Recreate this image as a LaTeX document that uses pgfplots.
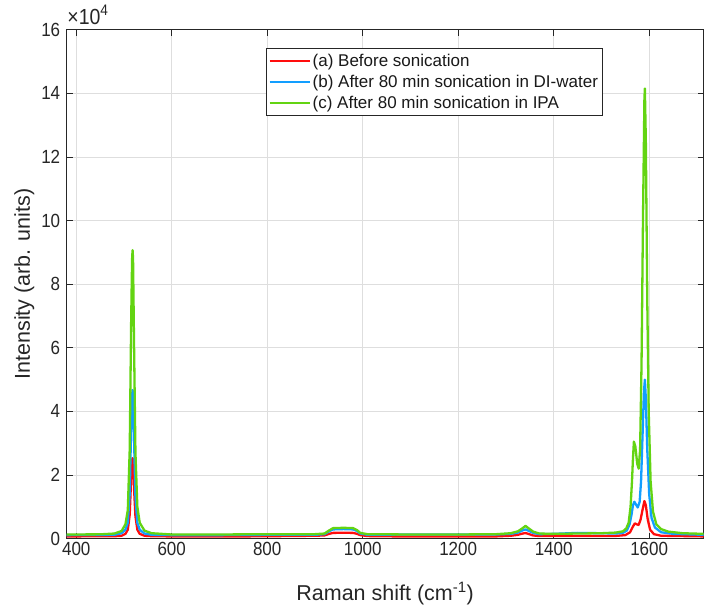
\documentclass[border=0pt]{standalone}
\usepackage{fontspec}
\setmainfont{Liberation Sans}
\usepackage{pgfplots}
\pgfplotsset{compat=1.18}

\definecolor{cred}{rgb}{1,0.05,0.05}
\definecolor{cblue}{rgb}{0.07,0.62,1}
\definecolor{cgreen}{rgb}{0.39,0.83,0.07}
\definecolor{axgray}{gray}{0.15}
\definecolor{gridgray}{gray}{0.87}

\begin{document}
\begin{tikzpicture}
\begin{axis}[
    scale only axis,
    width=637bp, height=509bp,
    xmin=380, xmax=1714,
    ymin=0, ymax=160000,
    xtick={400,600,...,1600},
    ytick={0,20000,...,160000},
    scaled y ticks=base 10:-4,
    ytick scale label code/.code={},
    /pgf/number format/assume math mode=true,
    /pgf/number format/1000 sep={},
    ticklabel style={font=\fontsize{17bp}{17bp}\selectfont, text=axgray, yscale=1.12},
    yticklabel style={xshift=-3bp},
    xlabel={Raman shift (cm\textsuperscript{-1})},
    ylabel={Intensity (arb. units)},
    label style={font=\fontsize{21.5bp}{21.5bp}\selectfont, text=axgray},
    xlabel style={yshift=-19bp},
    grid=major,
    major grid style={gridgray, line width=0.7bp},
    axis line style={axgray, line width=0.8bp},
    tick style={axgray, line width=0.8bp},
    tick align=inside,
    major tick length=6bp,
    legend style={at={(rel axis cs:0.313,0.964)}, anchor=north west,
        draw=axgray, line width=0.7bp, fill=white,
        font=\fontsize{17bp}{19bp}\selectfont, text=black!90,
        inner xsep=2bp, inner ysep=3.5bp, row sep=3.5bp,
        cells={anchor=west}},
    legend image code/.code={\draw[#1] (0bp,0bp) -- (40bp,0bp);},
    every axis plot/.append style={line width=2.3bp, line join=round},
]
\coordinate (bl) at (rel axis cs:0,0);
\coordinate (tr) at (rel axis cs:1,1);
\coordinate (tl) at (rel axis cs:0,1);

% (a) before sonication
\addplot[cred] coordinates {
(380,700)(480,750)(495,900)(503,1500)(508,2800)(512,7500)(515,19000)(517,24500)
(518,25300)(519,24000)(521,16000)(524,7000)(528,2800)(533,1500)(543,900)(560,750)
(600,700)(700,650)(800,750)(900,900)(920,1000)(930,1500)(938,1800)(960,1850)
(980,1800)(988,1500)(995,1100)(1010,800)(1100,650)(1200,650)(1280,700)(1310,900)
(1325,1200)(1335,1600)(1341,1750)(1347,1500)(1357,1000)(1370,800)(1450,800)
(1500,800)(1530,850)(1550,1100)(1560,2000)(1566,3800)(1570,4800)(1574,4500)
(1578,4300)(1582,6000)(1586,9000)(1590,11800)(1593,10500)(1597,6000)(1602,2800)
(1610,1400)(1625,900)(1714,700)
};
\addlegendentry{(a) Before sonication}

% (b) after 80 min in DI-water
\addplot[cblue] coordinates {
(380,1100)(480,1200)(495,1700)(503,2800)(508,5000)(512,14000)(515,35000)(517,45000)
(518,46700)(519,45000)(521,32000)(524,13000)(528,5000)(533,2800)(543,1600)(558,1200)
(600,1100)(700,1100)(800,1200)(900,1200)(920,1400)(930,2300)(938,2900)(960,3000)
(980,2900)(988,2400)(995,1600)(1010,1200)(1100,1300)(1200,1300)(1280,1300)(1310,1500)
(1325,1900)(1335,2600)(1341,2900)(1347,2500)(1357,1800)(1370,1400)(1400,1500)
(1450,1800)(1500,1700)(1530,1600)(1545,1800)(1553,2500)(1559,4500)(1563,7500)
(1566,10500)(1569,11600)(1572,10800)(1576,9800)(1580,11500)(1583,18000)(1586,32000)
(1589,46000)(1591,50000)(1593,44000)(1596,28000)(1600,14000)(1605,6500)(1612,3500)
(1625,2000)(1650,1500)(1714,1200)
};
\addlegendentry{(b) After 80 min sonication in DI-water}

% (c) after 80 min in IPA
\addplot[cgreen] coordinates {
(380,1300)(450,1350)(480,1600)(495,2400)(503,4500)(508,9000)(512,28000)(515,68000)
(517,88000)(518,90700)(519,88000)(521,62000)(524,27000)(528,10000)(533,5000)
(543,2500)(558,1700)(600,1300)(700,1300)(800,1400)(900,1400)(920,1600)(930,2600)
(938,3300)(960,3400)(980,3300)(988,2700)(995,1800)(1010,1400)(1100,1300)(1200,1300)
(1280,1400)(1310,1700)(1325,2300)(1335,3300)(1341,4000)(1347,3300)(1357,2200)
(1370,1600)(1400,1500)(1450,1600)(1500,1700)(1530,1900)(1545,2300)(1552,3200)
(1557,5000)(1561,10000)(1564,18000)(1566,25000)(1568,30500)(1571,29000)(1575,23500)
(1578,22000)(1581,28000)(1584,55000)(1587,100000)(1590,138000)(1591,141500)
(1593,125000)(1596,75000)(1599,40000)(1603,18000)(1608,8500)(1615,4500)(1625,3000)
(1640,2200)(1670,1700)(1714,1500)
};
\addlegendentry{(c) After 80 min sonication in IPA}
\end{axis}
\node[anchor=base west, inner sep=0pt, text=axgray, yscale=1.12, font=\fontsize{19.5bp}{19.5bp}\selectfont]
    at ([shift={(0.5bp,5.5bp)}]tl) {×10\textsuperscript{4}};
\pgfresetboundingbox
\path[use as bounding box] ([shift={(-66.7bp,-67.4bp)}]bl) rectangle ([shift={(0.4bp,29.7bp)}]tr);
\end{tikzpicture}
\end{document}
